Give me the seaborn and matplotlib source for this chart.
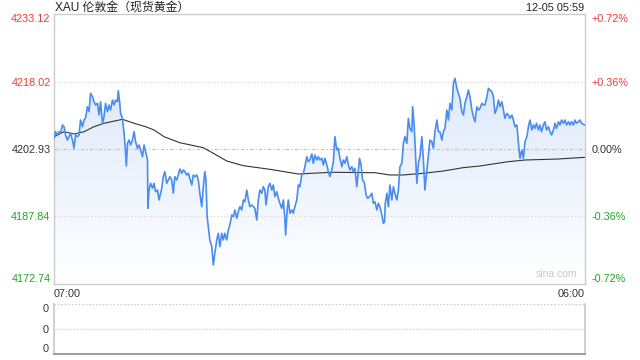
import numpy as np
import pandas as pd
import matplotlib
matplotlib.use("Agg")
import matplotlib.pyplot as plt
import seaborn as sns
from matplotlib.colors import LinearSegmentedColormap

# ---------------- data ----------------
title_text = "XAU 伦敦金（现货黄金）"
stamp_text = "12-05 05:59"
watermark = "sina.com"

prev_close = 4202.93
price_ticks = [4172.74, 4187.84, 4202.93, 4218.02, 4233.12]
price_tick_labels = ["4172.74", "4187.84", "4202.93", "4218.02", "4233.12"]
pct_tick_labels = ["-0.72%", "-0.36%", "0.00%", "+0.36%", "+0.72%"]
tick_sides = ["down", "down", "flat", "up", "up"]
time_ticks = [0, 1380]                       # minutes after 07:00
time_tick_labels = ["07:00", "06:00"]
vol_ticks = [0, 0.5, 1]
vol_tick_labels = ["0", "0", "0"]

# minutes after 07:00 for each sampled price
minutes = [
    0, 4, 9, 13, 17, 22, 26, 30, 35, 39, 43, 48, 52, 56, 61, 65, 69, 74, 78, 82,
    87, 91, 95, 100, 104, 108, 113, 117, 121, 126, 130, 134, 139, 143, 147, 152, 156, 160, 165, 167,
    171, 173, 178, 182, 185, 188, 191, 195, 199, 204, 208, 212, 217, 221, 225, 230, 234, 238, 243, 244,
    247, 251, 256, 260, 264, 269, 273,
    280, 284, 288, 293, 297, 301, 306, 310, 314, 319, 323, 327, 332, 336, 340, 345, 349, 353, 358, 362,
    366, 371, 375, 379, 384, 388, 392, 395, 398, 401, 405, 410, 414, 418, 423, 427, 431, 436, 440, 444,
    449, 453, 457, 462, 466, 470, 475, 479, 483, 488, 492, 496, 501, 505, 509, 514, 518, 522, 527, 531,
    535, 540, 544, 548,
    551, 557, 561, 566, 570, 574, 579, 583, 587, 592, 596, 600, 602, 606, 609, 613, 618, 622, 626, 631,
    635, 639, 644, 648, 652, 657, 661, 665, 670, 674, 678, 683, 687, 691, 696, 700, 704, 709, 713, 717,
    722, 726, 730, 735, 739, 743, 748, 752, 756, 761, 765, 769, 774, 778, 782, 787, 791, 794, 798, 802,
    807, 811, 815, 820,
    826, 830, 834, 839, 843, 847, 852, 856, 859, 861, 865, 869, 873, 878, 882, 886, 891, 895, 899, 904,
    908, 912, 917, 921, 925, 930, 932, 936, 939, 943, 947, 951, 956, 960, 964, 969, 973, 977, 982, 986,
    990, 995, 999, 1003, 1008, 1012, 1016, 1021, 1025, 1029, 1034, 1038, 1042, 1047, 1051, 1055, 1060, 1064, 1068, 1073,
    1077, 1081, 1086, 1090,
    1094, 1099, 1103, 1107, 1112, 1116, 1120, 1125, 1129, 1133, 1138, 1142, 1146, 1151, 1155, 1159, 1164, 1168, 1172, 1177,
    1181, 1185, 1190, 1194, 1198, 1203, 1207, 1211, 1216, 1220, 1224, 1229, 1233, 1237, 1242, 1246, 1250, 1254, 1259, 1263,
    1267, 1272, 1276, 1280, 1285, 1289, 1293, 1298, 1302, 1306, 1311, 1315, 1319, 1324, 1328, 1332, 1337, 1341, 1345, 1350,
    1354, 1358, 1363, 1367, 1371, 1379,
]

prices = [
    4205.32, 4206.80, 4206.06, 4206.80, 4206.51, 4208.30, 4207.92, 4206.06, 4204.94, 4205.68,
    4206.51, 4204.94, 4203.15, 4206.06, 4205.68, 4206.06, 4209.41, 4207.92, 4209.41, 4209.86,
    4212.39, 4211.27, 4215.38, 4214.62, 4213.50, 4212.77, 4213.15, 4210.53, 4213.50, 4208.68,
    4210.15, 4213.15, 4211.27, 4212.77, 4211.65, 4213.88, 4212.77, 4213.88, 4213.50, 4215.96,
    4213.15, 4210.91, 4209.79, 4206.44, 4203.44, 4199.13, 4204.20, 4204.94, 4203.82, 4204.94,
    4206.80, 4204.56, 4203.09, 4203.82, 4202.71, 4201.21, 4203.82, 4202.33, 4200.47, 4189.67,
    4193.76, 4195.26, 4194.14, 4195.26, 4193.38, 4193.76, 4191.53,
    4194.14, 4196.74, 4197.86, 4195.26, 4196.00, 4196.74, 4196.00, 4193.03, 4196.74, 4196.00,
    4197.12, 4198.46, 4197.50, 4198.24, 4197.86, 4197.12, 4197.50, 4196.38, 4194.88, 4197.12,
    4196.74, 4197.12, 4196.00, 4193.03, 4190.03, 4194.50, 4197.86, 4196.00, 4187.79, 4185.56,
    4182.59, 4181.09, 4177.00, 4179.61, 4182.59, 4184.08, 4181.09, 4184.08, 4182.59, 4184.08,
    4182.59, 4184.82, 4185.94, 4188.18, 4187.79, 4189.29, 4187.44, 4188.91, 4190.03, 4189.29,
    4191.53, 4191.15, 4193.76, 4191.53, 4190.03, 4190.41, 4190.03, 4189.67, 4187.06, 4191.53,
    4193.76, 4193.03, 4194.50, 4193.76,
    4190.41, 4194.50, 4195.26, 4193.76, 4194.88, 4192.27, 4193.38, 4191.91, 4190.79, 4189.67,
    4191.53, 4187.44, 4183.70, 4189.29, 4191.53, 4188.56, 4189.29, 4188.56, 4190.03, 4191.53,
    4194.88, 4194.50, 4197.12, 4197.50, 4198.97, 4201.21, 4200.09, 4200.47, 4201.81, 4199.73,
    4201.59, 4200.47, 4201.21, 4200.47, 4200.85, 4199.35, 4200.85, 4199.35, 4197.86, 4196.74,
    4198.24, 4200.09, 4205.68, 4202.71, 4203.09, 4200.85, 4198.97, 4200.47, 4199.73, 4201.21,
    4199.35, 4198.24, 4198.97, 4197.86, 4198.62, 4194.50, 4198.24, 4200.85, 4199.35, 4196.00,
    4195.26, 4192.65, 4191.91, 4192.27,
    4193.03, 4190.79, 4191.15, 4189.29, 4190.79, 4190.03, 4188.18, 4186.32, 4186.68, 4190.79,
    4193.03, 4190.03, 4194.88, 4191.53, 4194.50, 4193.03, 4191.53, 4193.76, 4198.97, 4199.73,
    4204.20, 4205.68, 4204.20, 4209.79, 4207.56, 4206.80, 4212.39, 4208.30, 4202.71, 4195.26,
    4199.73, 4201.21, 4205.68, 4200.47, 4193.76, 4198.24, 4201.59, 4204.94, 4204.56, 4203.09,
    4206.80, 4209.41, 4206.80, 4206.80, 4204.94, 4206.80, 4207.56, 4211.65, 4209.41, 4213.15,
    4211.65, 4217.62, 4218.74, 4216.50, 4215.38, 4214.26, 4211.27, 4210.53, 4213.15, 4214.62,
    4216.12, 4214.62, 4211.65, 4210.15,
    4209.03, 4212.39, 4211.65, 4212.03, 4213.15, 4212.77, 4212.77, 4214.62, 4216.50, 4216.12,
    4215.74, 4214.62, 4210.91, 4212.03, 4213.88, 4212.39, 4213.50, 4211.65, 4209.79, 4210.91,
    4210.53, 4209.79, 4210.53, 4209.41, 4207.92, 4208.30, 4204.20, 4200.85, 4202.71, 4200.85,
    4204.56, 4205.68, 4207.92, 4209.41, 4207.18, 4208.30, 4207.56, 4208.68, 4207.18, 4208.30,
    4206.80, 4208.30, 4209.03, 4207.18, 4207.92, 4206.80, 4206.06, 4207.18, 4208.68, 4207.56,
    4209.03, 4208.30, 4209.41, 4208.68, 4209.41, 4208.30, 4209.03, 4208.30, 4209.03, 4208.30,
    4209.41, 4208.68, 4209.03, 4209.41, 4208.68, 4208.30,
]

avg_minutes = [0, 26, 52, 78, 104, 130, 178, 208, 238, 260, 286, 327, 388, 414, 449, 492,
               561, 635, 722, 834, 873, 907, 960, 1012, 1063, 1107, 1180, 1224, 1310, 1379]
avg_prices = [4205.68, 4206.80, 4206.28, 4206.80, 4207.92, 4208.68, 4209.57, 4208.68, 4207.92,
              4207.18, 4205.68, 4204.34, 4203.22, 4201.97, 4200.25, 4199.20, 4198.39, 4197.34,
              4197.72, 4197.63, 4197.12, 4197.12, 4197.50, 4198.01, 4198.75, 4199.13, 4200.09,
              4200.47, 4200.69, 4201.07]

# ---------------- style ----------------
sns.set_theme(style="white")
plt.rcParams["font.family"] = ["Liberation Sans", "Noto Sans CJK SC", "DejaVu Sans"]

RED = "#f03a3a"
GREEN = "#22a622"
NEUTRAL = "#333333"
side_color = {"up": RED, "down": GREEN, "flat": NEUTRAL}
LINE_BLUE = "#4a8cf0"
BORDER = "#cccccc"

W, H = 640, 360
fig = plt.figure(figsize=(6.4, 3.6), dpi=100)
fig.patch.set_facecolor("white")

ax = fig.add_axes([54 / W, (H - 284) / H, 531 / W, 270 / H])
axv = fig.add_axes([54 / W, (H - 354) / H, 531 / W, 50 / H])

df = pd.DataFrame({"minute": minutes, "price": prices})
dfa = pd.DataFrame({"minute": avg_minutes, "price": avg_prices})

ymin, ymax = price_ticks[0], price_ticks[-1]
xmin, xmax = time_ticks[0], time_ticks[-1]

# gradient fill under the price line
cmap = LinearSegmentedColormap.from_list("fill", ["#ffffff", "#d3e2f9"])
grad = np.linspace(0, 1, 256).reshape(-1, 1)
im = ax.imshow(grad, extent=[xmin, xmax, ymin, ymax], origin="lower",
               aspect="auto", cmap=cmap, zorder=1)
poly = ax.fill_between(df["minute"], df["price"], ymin, color="none", lw=0)
im.set_clip_path(poly.get_paths()[0], transform=ax.transData)

# grid lines
for v, s in zip(price_ticks[1:-1], tick_sides[1:-1]):
    if s == "flat":
        ax.axhline(v, color="#bdbdbd", lw=0.8, ls=(0, (3, 2, 1, 2)), zorder=2)
    else:
        ax.axhline(v, color="#cfcfcf", lw=0.8, ls=(0, (1, 2)), zorder=2)

sns.lineplot(data=df, x="minute", y="price", ax=ax, color=LINE_BLUE, lw=1.2,
             zorder=4, estimator=None)
sns.lineplot(data=dfa, x="minute", y="price", ax=ax, color="#333333", lw=0.8,
             zorder=3, estimator=None)

ax.set_xlim(xmin, xmax)
ax.set_ylim(ymin, ymax)
ax.set_xlabel("")
ax.set_ylabel("")
for sp in ax.spines.values():
    sp.set_visible(True)
    sp.set_color(BORDER)
    sp.set_linewidth(1.0)

ax.set_yticks(price_ticks)
ax.set_yticklabels(price_tick_labels)
ax.tick_params(axis="y", length=0, pad=2.5, labelsize=7.8)
for lbl, s in zip(ax.get_yticklabels(), tick_sides):
    lbl.set_color(side_color[s])
ylbls = ax.get_yticklabels()
ylbls[0].set_va("bottom")
ylbls[-1].set_va("top")

ax.set_xticks(time_ticks)
ax.set_xticklabels(time_tick_labels)
ax.tick_params(axis="x", length=0, pad=3.5, labelsize=7.8, labelcolor="#333333")
xlbls = ax.get_xticklabels()
xlbls[0].set_ha("left")
xlbls[-1].set_ha("right")

# right-hand percentage axis
axr = ax.twinx()
axr.set_ylim(ymin, ymax)
axr.set_yticks(price_ticks)
axr.set_yticklabels(pct_tick_labels)
axr.tick_params(axis="y", length=0, pad=4.5, labelsize=7.8)
for lbl, s in zip(axr.get_yticklabels(), tick_sides):
    lbl.set_color(side_color[s])
rl = axr.get_yticklabels()
rl[0].set_va("bottom")
rl[-1].set_va("top")
for sp in axr.spines.values():
    sp.set_visible(False)
axr.grid(False)
ax.grid(False)

ax.text(0.985, 0.02, watermark, transform=ax.transAxes, ha="right", va="bottom",
        fontsize=7.5, color="#c8c8c8", zorder=5)

# volume panel (no volume)
axv.set_xlim(xmin, xmax)
axv.set_ylim(vol_ticks[0], vol_ticks[-1])
axv.set_xticks([])
axv.set_yticks(vol_ticks)
axv.set_yticklabels(vol_tick_labels)
axv.tick_params(axis="y", length=0, pad=4, labelsize=7.8, labelcolor="#333333")
vl = axv.get_yticklabels()
vl[0].set_va("bottom")
vl[-1].set_va("top")
axv.spines["left"].set_color(BORDER)
axv.spines["right"].set_color(BORDER)
axv.spines["top"].set_visible(False)
axv.spines["bottom"].set_color("#8c8c8c")
axv.spines["bottom"].set_linewidth(1.2)
axv.axhline(vol_ticks[-1], color="#c8c8c8", lw=1.0, ls=(0, (1, 1.5)))
axv.axhline(vol_ticks[1], color="#c8c8c8", lw=0.8, ls=(0, (1, 1.5)))
axv.grid(False)

# header texts
fig.text(55 / W, 1 - 8 / H, title_text, ha="left", va="center", fontsize=8.6,
         color="#222222")
fig.text(584 / W, 1 - 8 / H, stamp_text, ha="right", va="center", fontsize=7.8,
         color="#222222")

fig.savefig("out.png", dpi=100)
